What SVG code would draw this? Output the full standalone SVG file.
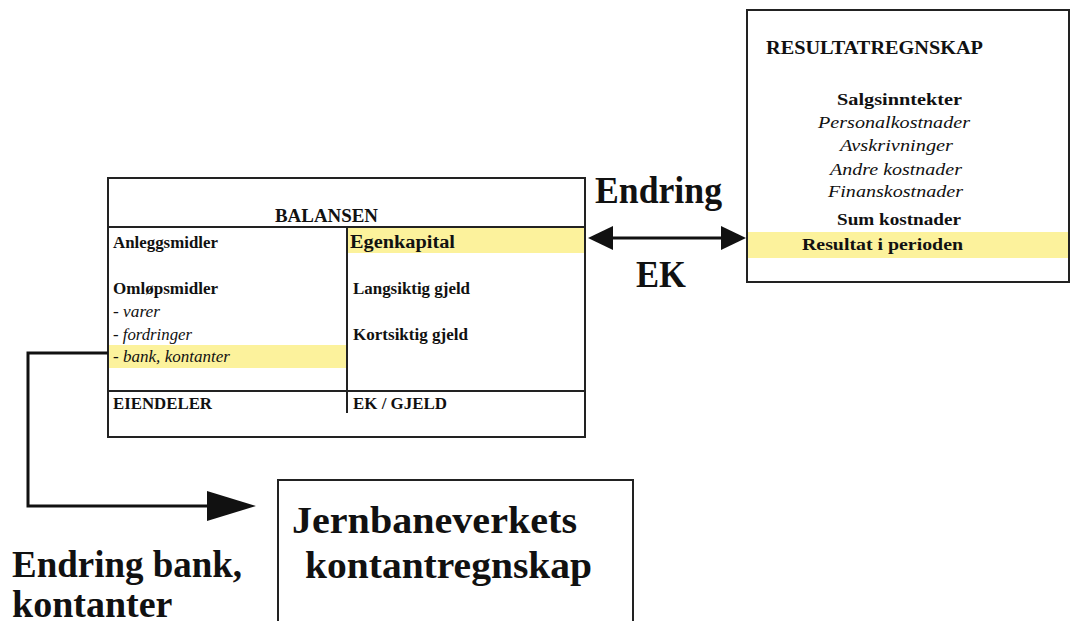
<svg xmlns="http://www.w3.org/2000/svg" width="1072" height="621" viewBox="0 0 1072 621">
<defs>
<style>
.box{fill:#fff;stroke:#222;stroke-width:2}
.ln{stroke:#222;stroke-width:2;fill:none}
.cn{stroke:#111;stroke-width:3;fill:none}
.hl{fill:#fcf29c}
.head{fill:#111}
text{font-family:"Liberation Serif","Times New Roman",serif;fill:#111}
.b{font-weight:bold}
.i{font-style:italic}
.s{font-size:16.5px}
.r{font-size:17.5px}
.big{font-size:38px;font-weight:bold}
</style>
</defs>
<rect width="1072" height="621" fill="#fff"/>

<g id="balansen">
<rect class="box" x="108" y="178" width="477" height="259"/>
<rect class="hl" x="348" y="228" width="236" height="25"/>
<rect class="hl" x="109" y="345" width="238" height="23"/>
<line class="ln" x1="108" y1="227" x2="585" y2="227"/>
<line class="ln" x1="108" y1="391" x2="585" y2="391"/>
<line class="ln" x1="347" y1="227" x2="347" y2="413"/>
<text class="b" x="275" y="222" font-size="18" textLength="103" lengthAdjust="spacingAndGlyphs">BALANSEN</text>
<text class="b s" x="113" y="248" textLength="105" lengthAdjust="spacingAndGlyphs">Anleggsmidler</text>
<text class="b s" x="113" y="294" textLength="105" lengthAdjust="spacingAndGlyphs">Omløpsmidler</text>
<text class="i s" x="113" y="317" textLength="47" lengthAdjust="spacingAndGlyphs">- varer</text>
<text class="i s" x="113" y="340" textLength="79" lengthAdjust="spacingAndGlyphs">- fordringer</text>
<text class="i s" x="113" y="362" textLength="117" lengthAdjust="spacingAndGlyphs">- bank, kontanter</text>
<text class="b s" x="113" y="409" textLength="99" lengthAdjust="spacingAndGlyphs">EIENDELER</text>
<text class="b" x="350" y="248" font-size="18" textLength="105" lengthAdjust="spacingAndGlyphs">Egenkapital</text>
<text class="b s" x="353" y="294" textLength="117" lengthAdjust="spacingAndGlyphs">Langsiktig gjeld</text>
<text class="b s" x="353" y="340" textLength="115" lengthAdjust="spacingAndGlyphs">Kortsiktig gjeld</text>
<text class="b s" x="353" y="409" textLength="94" lengthAdjust="spacingAndGlyphs">EK / GJELD</text>
</g>

<g id="resultat">
<rect class="box" x="747" y="10" width="322" height="272"/>
<rect class="hl" x="748" y="232" width="320" height="26"/>
<text class="b" x="766" y="54" font-size="18" textLength="217" lengthAdjust="spacingAndGlyphs">RESULTATREGNSKAP</text>
<text class="b r" x="837" y="105" textLength="125" lengthAdjust="spacingAndGlyphs">Salgsinntekter</text>
<text class="i r" x="818" y="128" textLength="152" lengthAdjust="spacingAndGlyphs">Personalkostnader</text>
<text class="i r" x="840" y="151" textLength="113" lengthAdjust="spacingAndGlyphs">Avskrivninger</text>
<text class="i r" x="830" y="175" textLength="132" lengthAdjust="spacingAndGlyphs">Andre kostnader</text>
<text class="i r" x="828" y="197" textLength="135" lengthAdjust="spacingAndGlyphs">Finanskostnader</text>
<text class="b r" x="837" y="225" textLength="124" lengthAdjust="spacingAndGlyphs">Sum kostnader</text>
<text class="b r" x="802" y="250" textLength="161" lengthAdjust="spacingAndGlyphs">Resultat i perioden</text>
</g>

<g id="kontant">
<rect class="box" x="278" y="480" width="355" height="150"/>
<text class="big" x="292" y="533" font-size="40" textLength="285" lengthAdjust="spacingAndGlyphs">Jernbaneverkets</text>
<text class="big" x="305" y="578" font-size="40" textLength="287" lengthAdjust="spacingAndGlyphs">kontantregnskap</text>
</g>

<g id="labels">
<text class="big" x="595" y="203" font-size="32" textLength="127" lengthAdjust="spacingAndGlyphs">Endring</text>
<text class="big" x="636" y="287" font-size="34" textLength="50" lengthAdjust="spacingAndGlyphs">EK</text>
<text class="big" x="12" y="577" font-size="36" textLength="230" lengthAdjust="spacingAndGlyphs">Endring bank,</text>
<text class="big" x="12" y="617" font-size="36">kontanter</text>
</g>

<g id="connectors">
<line class="cn" x1="610" y1="238" x2="724" y2="238"/>
<path class="head" d="M588,238 L613,226 L613,250 z"/>
<path class="head" d="M746,238 L721,226 L721,250 z"/>
<polyline class="cn" points="108,353 28,353 28,506 212,506"/>
<path class="head" d="M256,506 L207,491 L207,521 z"/>
</g>
</svg>
